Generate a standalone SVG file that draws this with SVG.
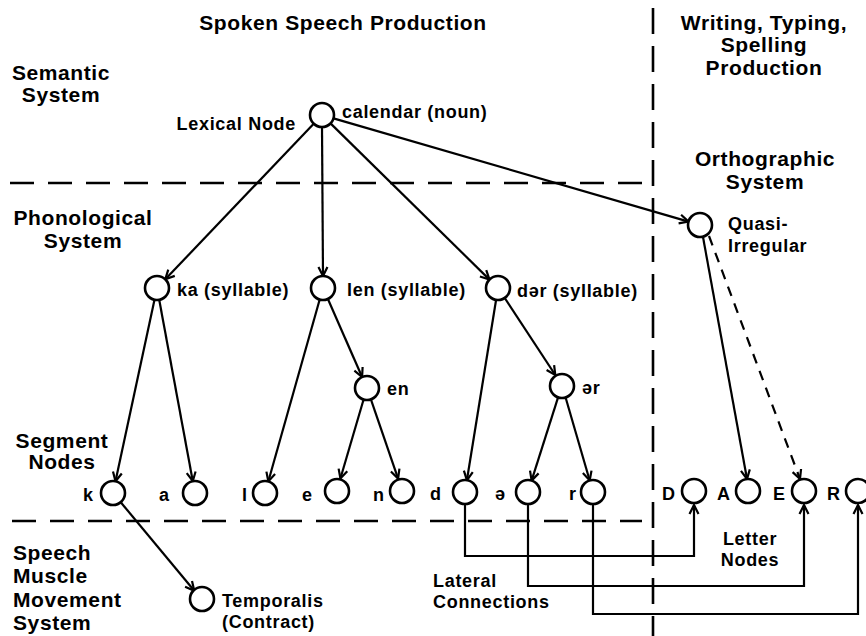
<svg xmlns="http://www.w3.org/2000/svg" width="866" height="636" viewBox="0 0 866 636">
  <style>
    text { font-family: "Liberation Sans", Arial, Helvetica, sans-serif; font-weight: bold; fill: #000; }
    .hd { font-size: 21px; letter-spacing: 0.6px; }
    .lb { font-size: 18px; letter-spacing: 0.7px; }
    .mid { text-anchor: middle; }
    .end { text-anchor: end; }
    .node { fill: #fff; stroke: #000; stroke-width: 2.6; }
    .edge { fill: none; stroke: #000; stroke-width: 2.2; marker-end: url(#arrow); }
    .hint { fill: none; stroke: #000; stroke-width: 2.2; stroke-dasharray: 10 8; marker-end: url(#arrow); }
    .zone { fill: none; stroke: #000; stroke-width: 2.6; stroke-dasharray: 24 14; }
  </style>
  <defs>
    <marker id="arrow" markerWidth="12" markerHeight="12" refX="10" refY="5" orient="auto" markerUnits="userSpaceOnUse" viewBox="0 0 12 10">
      <path d="M1,0.5 L10,5 L1,9.5" fill="none" stroke="#000" stroke-width="2.2"/>
    </marker>
  </defs>

  <!-- system boundaries -->
  <g id="boundaries">
    <line class="zone" x1="10" y1="183" x2="642" y2="183"/>
    <line class="zone" x1="12" y1="521" x2="642" y2="521"/>
    <line class="zone" x1="653" y1="8" x2="653" y2="636" style="stroke-dasharray:26 12"/>
  </g>

  <!-- headings -->
  <g id="headings">
    <text class="hd mid" x="343" y="30">Spoken Speech Production</text>
    <text class="hd mid" x="764" y="30">Writing, Typing,</text>
    <text class="hd mid" x="764" y="52">Spelling</text>
    <text class="hd mid" x="764" y="75">Production</text>
    <text class="hd mid" x="61" y="80">Semantic</text>
    <text class="hd mid" x="61" y="102">System</text>
    <text class="hd mid" x="83" y="225">Phonological</text>
    <text class="hd mid" x="83" y="248">System</text>
    <text class="hd mid" x="765" y="166">Orthographic</text>
    <text class="hd mid" x="765" y="189">System</text>
    <text class="hd" x="13" y="560">Speech</text>
    <text class="hd" x="13" y="583">Muscle</text>
    <text class="hd" x="13" y="607">Movement</text>
    <text class="hd" x="13" y="630">System</text>
  </g>

  <!-- connectors -->
  <g id="connectors">
    <line class="edge" x1="313.7" y1="123.7" x2="165.3" y2="279.3"/>
    <line class="edge" x1="322" y1="127" x2="323" y2="276"/>
    <line class="edge" x1="330.5" y1="123.4" x2="489.5" y2="279.6"/>
    <line class="edge" x1="333.5" y1="118.4" x2="688.5" y2="221.6"/>
    <line class="edge" x1="154.5" y1="299.7" x2="115.5" y2="481.3"/>
    <line class="edge" x1="159.2" y1="299.8" x2="192.8" y2="481.2"/>
    <line class="edge" x1="319.7" y1="299.5" x2="268.3" y2="481.5"/>
    <line class="edge" x1="327.9" y1="299" x2="362.1" y2="377"/>
    <line class="edge" x1="363.6" y1="399.5" x2="340.4" y2="478.5"/>
    <line class="edge" x1="370.9" y1="399.4" x2="398.1" y2="478.6"/>
    <line class="edge" x1="496.1" y1="299.8" x2="466.9" y2="480.2"/>
    <line class="edge" x1="504.7" y1="298" x2="555.3" y2="375"/>
    <line class="edge" x1="558.4" y1="396.4" x2="531.6" y2="480.6"/>
    <line class="edge" x1="565.3" y1="396.5" x2="589.7" y2="480.5"/>
    <line class="edge" x1="120.7" y1="502.2" x2="194.3" y2="590.8"/>
    <line class="edge" x1="703" y1="237" x2="747" y2="479"/>
    <line class="hint" x1="709" y1="236" x2="800" y2="479"/>
    <path class="edge" d="M465,504 V556 H694 V505"/>
    <path class="edge" d="M528,504 V586 H804 V505"/>
    <path class="edge" d="M593,504 V614 H858 V505"/>
  </g>

  <!-- nodes -->
  <g id="lexical">
    <circle class="node" cx="322" cy="115" r="12"/>
    <text class="lb end" x="296" y="130">Lexical Node</text>
    <text class="lb" x="342" y="118">calendar (noun)</text>
  </g>
  <g id="syl-ka">
    <circle class="node" cx="157" cy="288" r="12"/>
    <text class="lb" x="177" y="296">ka (syllable)</text>
  </g>
  <g id="syl-len">
    <circle class="node" cx="323" cy="288" r="12"/>
    <text class="lb" x="347" y="296">len (syllable)</text>
  </g>
  <g id="syl-der">
    <circle class="node" cx="498" cy="288" r="12"/>
    <text class="lb" x="517" y="297">dər (syllable)</text>
  </g>
  <g id="rime-en">
    <circle class="node" cx="367" cy="388" r="12"/>
    <text class="lb" x="387" y="395">en</text>
  </g>
  <g id="rime-er">
    <circle class="node" cx="562" cy="386" r="12"/>
    <text class="lb" x="582" y="394">ər</text>
  </g>
  <g id="segments">
    <text class="hd mid" x="62" y="448">Segment</text>
    <text class="hd mid" x="62" y="469">Nodes</text>
  </g>
  <g id="seg-k"><circle class="node" cx="113" cy="493" r="12"/><text class="lb" x="83" y="501">k</text></g>
  <g id="seg-a"><circle class="node" cx="195" cy="493" r="12"/><text class="lb" x="159" y="501">a</text></g>
  <g id="seg-l"><circle class="node" cx="265" cy="493" r="12"/><text class="lb" x="242" y="501">l</text></g>
  <g id="seg-e"><circle class="node" cx="337" cy="491" r="12"/><text class="lb" x="302" y="501">e</text></g>
  <g id="seg-n"><circle class="node" cx="402" cy="491" r="12"/><text class="lb" x="373" y="501">n</text></g>
  <g id="seg-d"><circle class="node" cx="465" cy="492" r="12"/><text class="lb" x="430" y="500">d</text></g>
  <g id="seg-schwa"><circle class="node" cx="528" cy="492" r="12"/><text class="lb" x="495" y="500">ə</text></g>
  <g id="seg-r"><circle class="node" cx="593" cy="492" r="12"/><text class="lb" x="569" y="500">r</text></g>

  <g id="muscle">
    <circle class="node" cx="202" cy="599" r="12"/>
    <text class="lb" x="222" y="607">Temporalis</text>
    <text class="lb" x="222" y="628">(Contract)</text>
  </g>
  <g id="lateral-label">
    <text class="lb" x="433" y="587">Lateral</text>
    <text class="lb" x="433" y="608">Connections</text>
  </g>

  <g id="quasi">
    <circle class="node" cx="700" cy="225" r="12"/>
    <text class="lb" x="728" y="230">Quasi-</text>
    <text class="lb" x="728" y="252">Irregular</text>
  </g>
  <g id="let-D"><circle class="node" cx="694" cy="491" r="12"/><text class="lb" x="662" y="500">D</text></g>
  <g id="let-A"><circle class="node" cx="748" cy="491" r="12"/><text class="lb" x="717" y="500">A</text></g>
  <g id="let-E"><circle class="node" cx="804" cy="491" r="12"/><text class="lb" x="773" y="500">E</text></g>
  <g id="let-R"><circle class="node" cx="858" cy="491" r="12"/><text class="lb" x="827" y="500">R</text></g>
  <g id="letters">
    <text class="lb mid" x="750" y="545">Letter</text>
    <text class="lb mid" x="750" y="566">Nodes</text>
  </g>
</svg>
